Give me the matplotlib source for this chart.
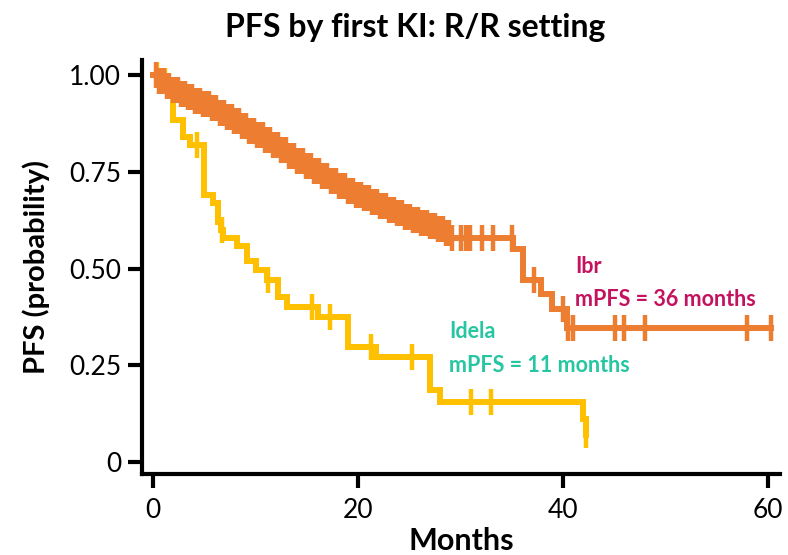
import numpy as np
import matplotlib
matplotlib.use("Agg")
import matplotlib.pyplot as plt

plt.rcParams["font.family"] = ["Lato", "DejaVu Sans"]

ORANGE = "#ED7D31"
GOLD = "#FFC000"
IBR_TEXT = "#C4125E"
IDELA_TEXT = "#26C6A2"

# Ibr (ibrutinib) KM steps
ibr_event_t = [0.5, 1.2, 1.8, 2.5, 3.2, 4.0, 4.8, 5.6, 6.3, 7.0, 7.8, 8.5, 9.3,
               10.0, 10.8, 11.6, 12.4, 13.2, 14.0, 14.8, 15.6, 16.4, 17.2, 18.0,
               18.8, 19.6, 20.4, 21.2, 22.0, 22.8, 23.6, 24.4, 25.2, 26.0, 26.8,
               27.6, 28.4, 29.0, 35.1, 36.1, 37.9, 38.9, 40.4]
ibr_surv = [0.985, 0.972, 0.962, 0.953, 0.944, 0.935, 0.926, 0.915, 0.903, 0.892,
            0.881, 0.870, 0.857, 0.845, 0.833, 0.820, 0.806, 0.792, 0.779, 0.765,
            0.752, 0.740, 0.727, 0.714, 0.702, 0.692, 0.682, 0.672, 0.662, 0.652,
            0.643, 0.634, 0.626, 0.618, 0.610, 0.602, 0.592, 0.580, 0.550, 0.470,
            0.435, 0.395, 0.347]
ibr_cens_t = [0.3, 0.6, 0.9, 1.1, 1.4, 1.6, 2.0, 2.2, 2.4, 2.7, 2.9, 3.1, 3.4, 3.6,
              3.8, 4.1, 4.3, 4.6, 4.9, 5.1, 5.3, 5.5, 5.8, 6.0, 6.2, 6.5, 6.7, 6.9,
              7.2, 7.4, 7.7, 7.9, 8.1, 8.4, 8.7, 8.9, 9.1, 9.4, 9.6, 9.9, 10.2, 10.4,
              10.7, 10.9, 11.2, 11.4, 11.7, 11.9, 12.2, 12.5, 12.7, 13.0, 13.3, 13.5,
              13.8, 14.1, 14.3, 14.6, 14.9, 15.1, 15.4, 15.7, 15.9, 16.2, 16.5, 16.7,
              17.0, 17.4, 17.7, 17.9, 18.2, 18.5, 18.7, 19.0, 19.3, 19.5, 19.8, 20.1,
              20.3, 20.6, 20.9, 21.1, 21.4, 21.7, 21.9, 22.2, 22.5, 22.7, 23.0, 23.3,
              23.5, 23.8, 24.1, 24.3, 24.6, 24.9, 25.1, 25.4, 25.7, 25.9, 26.2, 26.5,
              26.7, 27.0, 27.3, 27.5, 27.8, 28.1, 28.3, 28.6, 28.9, 29.2, 30.1, 30.6,
              30.9, 32.1, 33.2, 35.0, 37.2, 40.0, 40.5, 41.0, 45.1, 46.0, 48.0, 58.0,
              60.3]
ibr_end = 60.3

# Idela (idelalisib)
idela_event_t = [0.6, 2.0, 2.9, 3.6, 5.0, 5.85, 6.3, 6.6, 6.8, 8.2, 9.2, 10.1,
                 11.1, 12.2, 13.1, 16.1, 19.0, 21.8, 27.0, 28.0, 42.0, 42.3]
idela_surv = [0.985, 0.886, 0.840, 0.820, 0.690, 0.670, 0.620, 0.600, 0.580, 0.560,
              0.520, 0.497, 0.470, 0.428, 0.400, 0.376, 0.298, 0.272, 0.187, 0.155,
              0.110, 0.070]
idela_cens_t = [0.4, 1.2, 4.3, 6.7, 11.2, 15.5, 17.3, 21.3, 25.3, 31.0, 33.0, 42.3]
idela_end = 42.3


def km_arrays(event_t, surv, end):
    t = np.concatenate([[0.0], event_t, [end]])
    s = np.concatenate([[1.0], surv, [surv[-1]]])
    return t, s


def surv_at(event_t, surv, times):
    idx = np.searchsorted(event_t, times, side="right")
    full = np.concatenate([[1.0], surv])
    return full[idx]


fig = plt.figure(figsize=(7.88, 5.55), dpi=100)
ax = fig.add_axes([142 / 788, 81 / 555, 638 / 788, 414 / 555])

for ev, sv, ce, end, color in [
    (idela_event_t, idela_surv, idela_cens_t, idela_end, GOLD),
    (ibr_event_t, ibr_surv, ibr_cens_t, ibr_end, ORANGE),
]:
    t, s = km_arrays(ev, sv, end)
    ax.step(t, s, where="post", color=color, lw=4.3, solid_joinstyle="miter")
    ax.plot(ce, surv_at(ev, sv, ce), linestyle="none", marker="|",
            markersize=19, markeredgewidth=3.2, color=color)

ax.set_xlim(-1.07, 61.2)
ax.set_ylim(-0.031, 1.04)
ax.set_xticks([0, 20, 40, 60])
ax.set_yticks([0, 0.25, 0.5, 0.75, 1.0])
ax.set_yticklabels(["0", "0.25", "0.50", "0.75", "1.00"])
for side in ["top", "right"]:
    ax.spines[side].set_visible(False)
for side in ["left", "bottom"]:
    ax.spines[side].set_linewidth(3)
ax.tick_params(axis="both", length=10, width=3, labelsize=19)
ax.tick_params(axis="x", pad=7)
ax.tick_params(axis="y", pad=5)

ax.set_xlabel("Months", fontsize=22, fontweight="bold", labelpad=3)
ax.set_ylabel("PFS (probability)", fontsize=21, fontweight="bold", labelpad=14)
fig.text(415 / 788, 1 - 27 / 555, "PFS by first KI: R/R setting",
         fontsize=23, fontweight="bold", ha="center", va="center")

ax.text(41.2, 0.505, "Ibr", color=IBR_TEXT, fontsize=15.5, fontweight="bold", va="center")
ax.text(41.2, 0.42, "mPFS = 36 months", color=IBR_TEXT, fontsize=15.5,
        fontweight="bold", va="center")
ax.text(28.9, 0.337, "Idela", color=IDELA_TEXT, fontsize=15.5, fontweight="bold", va="center")
ax.text(28.9, 0.25, "mPFS = 11 months", color=IDELA_TEXT, fontsize=15.5,
        fontweight="bold", va="center")

fig.savefig("out.png", dpi=100)
